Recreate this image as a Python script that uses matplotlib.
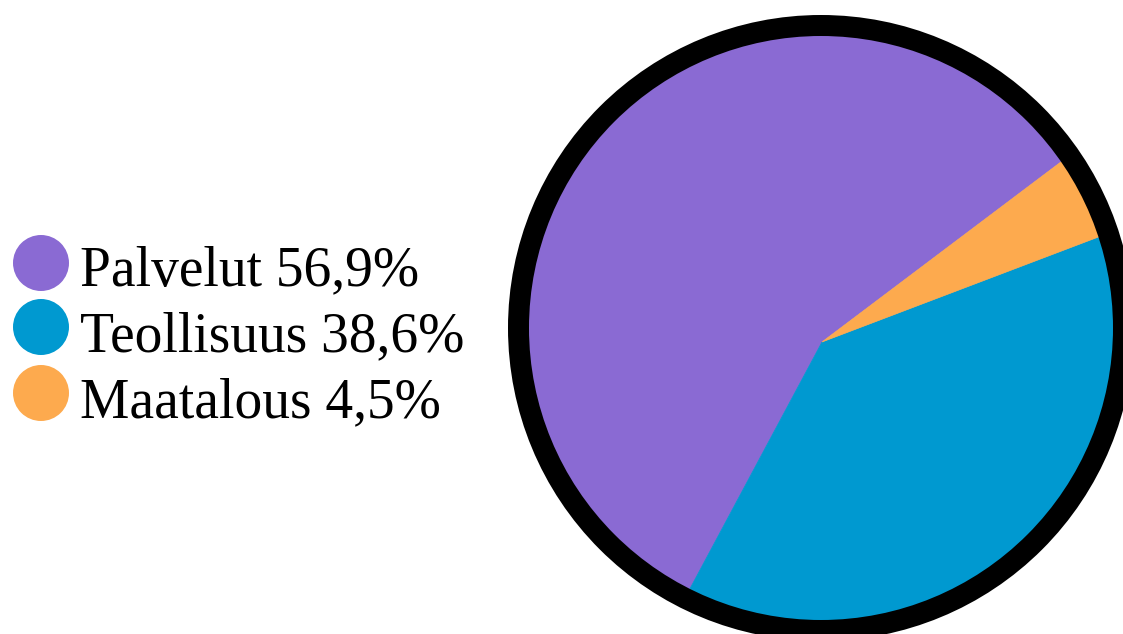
import matplotlib
matplotlib.use("Agg")
import matplotlib.pyplot as plt
from matplotlib.patches import Circle

categories = ["Palvelut", "Teollisuus", "Maatalous"]
values = [56.9, 38.6, 4.5]
colors = ["#8a6ad3", "#0099d0", "#fdaa4e"]

W, H = 1123, 634
fig = plt.figure(figsize=(W / 100, H / 100), dpi=100)
ax = fig.add_axes([0, 0, 1, 1])

# pie geometry (pixel-based data coords, y up)
rim_center = (821, H - 328)
rim_r = 292
ring_w = 21
vertex = (822, H - 342)

wedges, _ = ax.pie(values, colors=colors, startangle=37, counterclock=True,
                   center=vertex, radius=420,
                   wedgeprops=dict(linewidth=0.5, antialiased=True))
ax.set_xlim(0, W)
ax.set_ylim(0, H)
ax.set_aspect("auto")

clip = Circle(rim_center, rim_r + 2, transform=ax.transData)
for w, c in zip(wedges, colors):
    w.set_edgecolor(c)
    w.set_clip_on(True)
    w.set_clip_path(clip)

ring = Circle(rim_center, rim_r + ring_w / 2, fill=False, edgecolor="black",
              linewidth=ring_w * 0.72, zorder=5)
ax.add_patch(ring)

# legend
leg_x_circle = 41
leg_r = 28
circle_y = [263, 327, 393]
base_y = [285, 351, 417]
for cat, val, col, cy, by in zip(categories, values, colors, circle_y, base_y):
    ax.add_patch(Circle((leg_x_circle, H - cy), leg_r, facecolor=col,
                        edgecolor="none", zorder=6))
    label = f"{cat} {val:.1f}%".replace(".", ",")
    ax.text(80, H - by, label, fontsize=40, family="Liberation Serif",
            color="black", va="baseline", ha="left", zorder=7)

ax.axis("off")

fig.savefig("out.png", dpi=100, facecolor="white")
